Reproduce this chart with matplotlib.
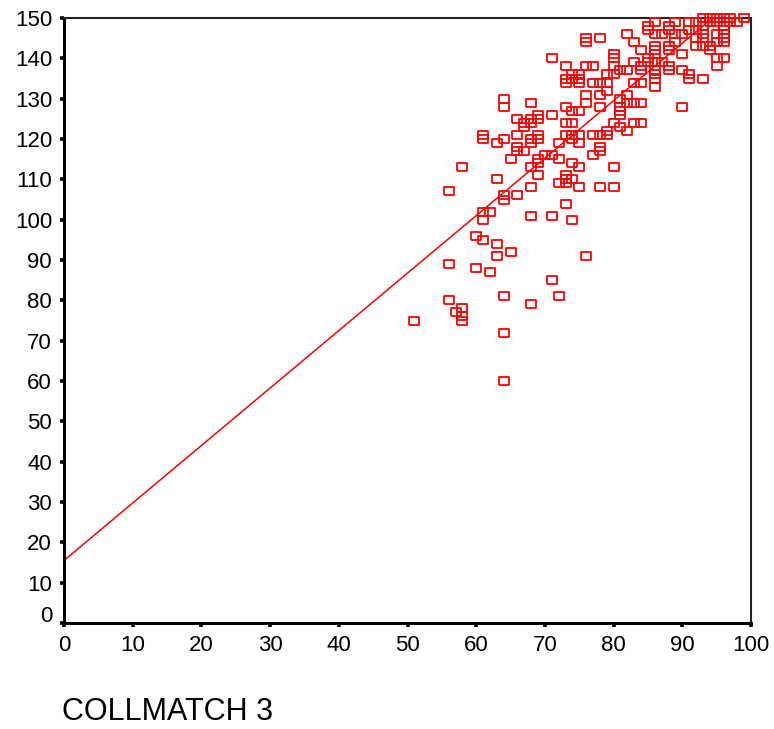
import matplotlib.pyplot as plt
import matplotlib.transforms as mtransforms

plt.rcParams['font.family'] = ['Liberation Sans', 'DejaVu Sans']

# points (COLLMATCH 3 vs score)
lower_x = [51, 56, 56, 56, 57, 58, 58, 58, 58,
           60, 60, 61, 61, 61, 61, 61, 62, 62,
           63, 63, 63, 63, 64, 64, 64, 64, 64,
           64, 64, 64, 65, 65, 66, 66, 66, 66, 66,
           68, 68, 71, 71, 72, 73, 74, 76]
lower_y = [75, 107, 89, 80, 77, 78, 76, 75, 113,
           96, 88, 102, 100, 95, 121, 120, 102, 87,
           94, 91, 110, 119, 106, 105, 81, 72, 60,
           130, 128, 120, 92, 115, 106, 125, 121, 118, 117,
           101, 79, 101, 85, 81, 104, 100, 91]

mid_x = [67, 67, 67, 68, 68, 68, 68, 68, 68, 68,
         69, 69, 69, 69, 69, 69, 69,
         70, 71, 71, 71, 72, 72, 72,
         73, 73, 73, 73, 73, 73, 73, 73, 73,
         74, 74, 74, 74, 74, 74, 74, 74,
         75, 75, 75, 75, 75, 75, 75, 75,
         76, 76, 76, 76, 76,
         77, 77, 77, 77,
         78, 78, 78, 78, 78, 78, 78, 78,
         79, 79, 79, 79, 79,
         80, 80, 80, 80, 80, 80, 80,
         81, 81, 81, 81, 81, 81,
         82, 82, 82, 82, 82,
         83, 83, 83, 83, 83,
         84, 84, 84, 84, 84, 84]
mid_y = [124, 123, 117, 129, 125, 124, 120, 119, 113, 108,
         126, 125, 121, 120, 115, 114, 111,
         116, 140, 126, 116, 119, 115, 109,
         138, 135, 134, 128, 124, 121, 111, 110, 109,
         136, 135, 127, 124, 121, 120, 114, 110,
         136, 135, 134, 127, 121, 119, 113, 108,
         145, 144, 138, 131, 129,
         138, 134, 121, 116,
         145, 134, 131, 128, 121, 118, 117, 108,
         136, 134, 132, 122, 121,
         141, 140, 138, 136, 124, 113, 108,
         137, 130, 128, 127, 126, 123,
         146, 137, 131, 129, 122,
         144, 139, 134, 129, 124,
         142, 138, 137, 134, 129, 124]

top_x = [85, 85, 85, 85,
         86, 86, 86, 86, 86, 86, 86, 86, 86, 86,
         87, 87,
         88, 88, 88, 88, 88, 88,
         89, 89, 89,
         90, 90, 90, 90,
         91, 91, 91, 91,
         92, 92, 92, 92,
         93, 93, 93, 93, 93, 93,
         94, 94, 94, 94,
         95, 95, 95, 95, 95, 95,
         96, 96, 96, 96, 96, 96, 96,
         97, 97, 98, 99]
top_y = [148, 147, 140, 139,
         149, 146, 143, 142, 141, 139, 137, 136, 135, 133,
         146, 139,
         148, 147, 143, 142, 138, 137,
         149, 146, 144,
         146, 141, 137, 128,
         149, 147, 136, 135,
         149, 147, 145, 143,
         150, 148, 146, 145, 143, 135,
         150, 149, 143, 142,
         150, 149, 146, 144, 140, 138,
         150, 148, 147, 146, 145, 144, 140,
         150, 149, 149, 150]

fit_intercept = 15.5
fit_slope = 1.425

xs = lower_x + mid_x + top_x
ys = lower_y + mid_y + top_y

fig = plt.figure(figsize=(7.74, 7.29), dpi=100)
ax = fig.add_axes([64 / 774, 1 - 623 / 729, 687 / 774, 605 / 729])

rect = [(-1, -0.82), (1, -0.82), (1, 0.82), (-1, 0.82), (-1, -0.82)]
ax.plot(xs, ys, linestyle='none', marker=rect, markersize=6.8,
        markerfacecolor='none', markeredgecolor='#ff0000', markeredgewidth=1.3,
        clip_on=False, zorder=3)

line_x = [0, 100]
line_y = [fit_intercept + fit_slope * v for v in line_x]
ax.plot(line_x, line_y, color='#ff0000', linewidth=1.1, zorder=2)

ax.set_xlim(0, 100)
ax.set_ylim(0, 150)
ax.set_xticks(range(0, 101, 10))
ax.set_yticks(range(0, 151, 10))

for side in ['left', 'bottom']:
    ax.spines[side].set_linewidth(2.2)
for side in ['top', 'right']:
    ax.spines[side].set_linewidth(1.5)
    ax.spines[side].set_color('#222222')

ax.tick_params(direction='out', length=2.6, width=2.6, pad=6.0,
               labelsize=16, color='black')

# the 0 on the y axis sits a little above its tick
fig.canvas.draw()
lab0 = ax.get_yticklabels()[0]
lab0.set_transform(lab0.get_transform()
                   + mtransforms.ScaledTranslation(0, 0.09, fig.dpi_scale_trans))

fig.text(62 / 774, 1 - 712 / 729, 'COLLMATCH 3', fontsize=22,
         ha='left', va='center')

fig.savefig('out.png', dpi=100)
